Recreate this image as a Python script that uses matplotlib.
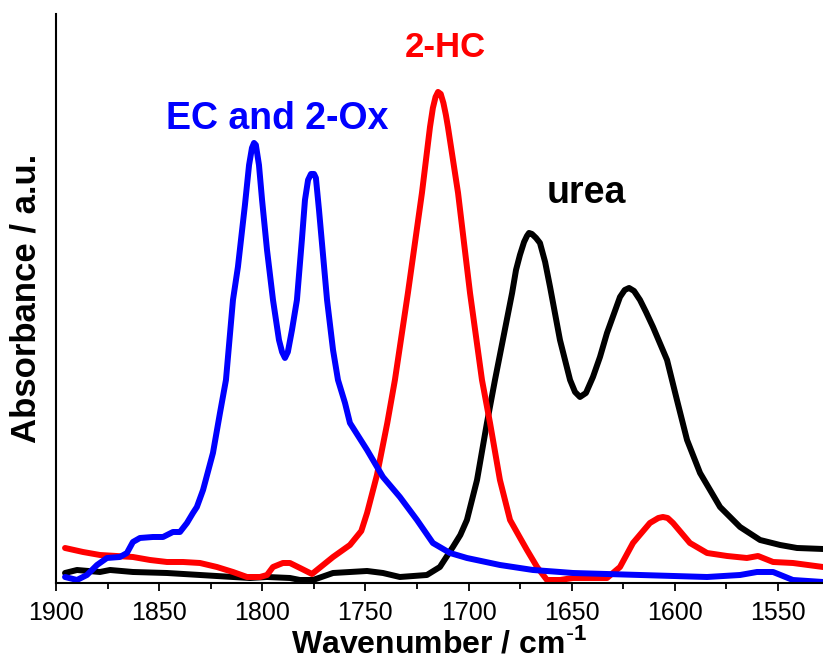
import numpy as np
import matplotlib.pyplot as plt
from matplotlib.ticker import MultipleLocator

plt.rcParams['font.family'] = ['Liberation Sans', 'DejaVu Sans']

# EC and 2-Ox (blue)
blue_wn = [1895.6, 1889.8, 1885.0, 1880.1, 1875.3, 1869.0, 1865.6, 1862.7, 1859.3, 1853.0,
           1848.1, 1843.3, 1839.9, 1836.5, 1833.6, 1831.7, 1828.7, 1823.9, 1820.5, 1817.6,
           1814.2, 1811.8, 1808.4, 1806.4, 1805.0, 1804.0, 1803.1, 1801.6, 1800.1, 1797.7,
           1794.8, 1791.9, 1790.4, 1789.0, 1787.6, 1785.6, 1783.2, 1780.8, 1779.3, 1777.8,
           1776.4, 1774.9, 1774.0, 1772.5, 1768.6, 1765.7, 1763.3, 1759.9, 1757.5, 1749.2,
           1741.5, 1733.3, 1725.0, 1717.3, 1709.0, 1700.8, 1684.8, 1668.8, 1655.7, 1649.4,
           1616.9, 1584.4, 1568.4, 1560.2, 1552.4, 1542.8, 1528.2]
blue_abs = [0.06, 0.03, 0.08, 0.18, 0.25, 0.26, 0.30, 0.41, 0.45, 0.46,
            0.46, 0.51, 0.51, 0.60, 0.70, 0.76, 0.93, 1.30, 1.70, 2.03,
            2.83, 3.16, 3.78, 4.18, 4.35, 4.40, 4.38, 4.18, 3.83, 3.33,
            2.83, 2.43, 2.31, 2.25, 2.31, 2.53, 2.83, 3.43, 3.83, 4.03,
            4.09, 4.09, 4.05, 3.73, 2.83, 2.33, 2.03, 1.80, 1.60, 1.33,
            1.06, 0.86, 0.63, 0.40, 0.30, 0.25, 0.18, 0.13, 0.11, 0.10,
            0.08, 0.06, 0.08, 0.11, 0.11, 0.03, 0.01]

# 2-HC (red)
red_wn = [1895.6, 1886.9, 1878.7, 1862.7, 1854.4, 1846.2, 1838.4, 1830.2, 1822.0, 1814.2,
          1807.4, 1801.1, 1797.7, 1794.8, 1790.0, 1786.6, 1781.7, 1775.9, 1765.7, 1757.5,
          1752.0, 1749.2, 1744.4, 1739.4, 1735.7, 1729.4, 1722.6, 1718.7, 1717.3, 1716.0,
          1714.8, 1713.5, 1712.2, 1711.0, 1710.0, 1705.1, 1699.3, 1693.5, 1689.6, 1684.8,
          1679.9, 1675.0, 1671.7, 1666.8, 1662.0, 1655.7, 1649.4, 1632.9, 1626.6, 1620.3,
          1612.1, 1608.0, 1605.8, 1603.5, 1600.9, 1592.7, 1584.4, 1574.7, 1565.1, 1559.7,
          1552.4, 1542.8, 1528.2]
red_abs = [0.35, 0.31, 0.28, 0.26, 0.23, 0.21, 0.21, 0.20, 0.16, 0.11,
           0.06, 0.06, 0.08, 0.16, 0.20, 0.20, 0.15, 0.09, 0.26, 0.38,
           0.52, 0.70, 1.08, 1.60, 2.03, 2.90, 3.90, 4.56, 4.75, 4.86,
           4.91, 4.89, 4.80, 4.68, 4.56, 3.90, 2.90, 2.03, 1.60, 1.03,
           0.63, 0.45, 0.33, 0.16, 0.03, 0.03, 0.05, 0.05, 0.16, 0.40,
           0.60, 0.65, 0.66, 0.65, 0.60, 0.40, 0.30, 0.27, 0.25, 0.27,
           0.21, 0.20, 0.16]

# urea (black)
black_wn = [1895.6, 1889.8, 1878.7, 1873.8, 1862.7, 1846.2, 1830.2, 1814.2, 1806.0, 1797.7,
            1786.6, 1781.7, 1775.4, 1765.7, 1749.2, 1741.5, 1733.3, 1720.2, 1713.9, 1707.6,
            1704.0, 1700.8, 1695.9, 1691.1, 1687.2, 1678.9, 1677.0, 1675.1, 1673.1, 1671.7,
            1670.7, 1669.3, 1667.3, 1665.4, 1662.9, 1660.5, 1655.7, 1650.8, 1648.4, 1646.0,
            1643.1, 1639.7, 1636.3, 1632.9, 1626.6, 1624.3, 1622.2, 1619.8, 1616.9, 1614.0,
            1610.6, 1603.8, 1599.0, 1594.1, 1587.8, 1578.1, 1568.4, 1558.7, 1549.0, 1540.8,
            1528.2]
black_abs = [0.10, 0.13, 0.11, 0.13, 0.11, 0.10, 0.08, 0.06, 0.05, 0.06,
             0.05, 0.03, 0.03, 0.10, 0.12, 0.10, 0.06, 0.08, 0.16, 0.36,
             0.48, 0.63, 1.03, 1.60, 2.03, 2.90, 3.13, 3.28, 3.41, 3.47,
             3.50, 3.49, 3.45, 3.40, 3.21, 2.96, 2.43, 2.03, 1.91, 1.86,
             1.90, 2.06, 2.26, 2.50, 2.86, 2.93, 2.95, 2.92, 2.83, 2.71,
             2.56, 2.23, 1.83, 1.43, 1.10, 0.76, 0.56, 0.43, 0.38, 0.35,
             0.34]

fig = plt.figure(figsize=(8.23, 6.64), dpi=100)
ax = fig.add_axes([0.068, 0.122, 0.932, 0.857])

lw = 4.3
style = dict(lw=lw, solid_joinstyle='round', solid_capstyle='round')
ax.plot(black_wn, black_abs, color='black', **style)
ax.plot(red_wn, red_abs, color='#ff0000', **style)
ax.plot(blue_wn, blue_abs, color='#0000ff', **style)

ax.text(1846.7, 4.54, 'EC and 2-Ox', color='#0000ff', fontsize=27, fontweight='bold', va='baseline')
ax.text(1730.8, 5.26, '2-HC', color='#ff0000', fontsize=25, fontweight='bold', va='baseline')
ax.text(1662.0, 3.80, 'urea', color='black', fontsize=27, fontweight='bold', va='baseline')

ax.set_xlim(1900, 1528.2)
ax.set_ylim(0, 5.69)
ax.xaxis.set_major_locator(MultipleLocator(50))
ax.xaxis.set_minor_locator(MultipleLocator(25))
ax.set_yticks([])
ax.spines['top'].set_visible(False)
ax.spines['right'].set_visible(False)
ax.spines['left'].set_linewidth(1.5)
ax.spines['bottom'].set_linewidth(1.5)
ax.tick_params(axis='x', which='major', direction='out', length=6, width=1.3, labelsize=18, pad=7)
ax.tick_params(axis='x', which='minor', direction='out', length=4, width=1.3)

ax.set_xlabel('Wavenumber / cm$^{\\mathregular{\\text{-}1}}$', fontsize=23, fontweight='bold', labelpad=2)
ax.set_ylabel('Absorbance / a.u.', fontsize=25, fontweight='bold', labelpad=10)

fig.savefig('out.png', dpi=100)
